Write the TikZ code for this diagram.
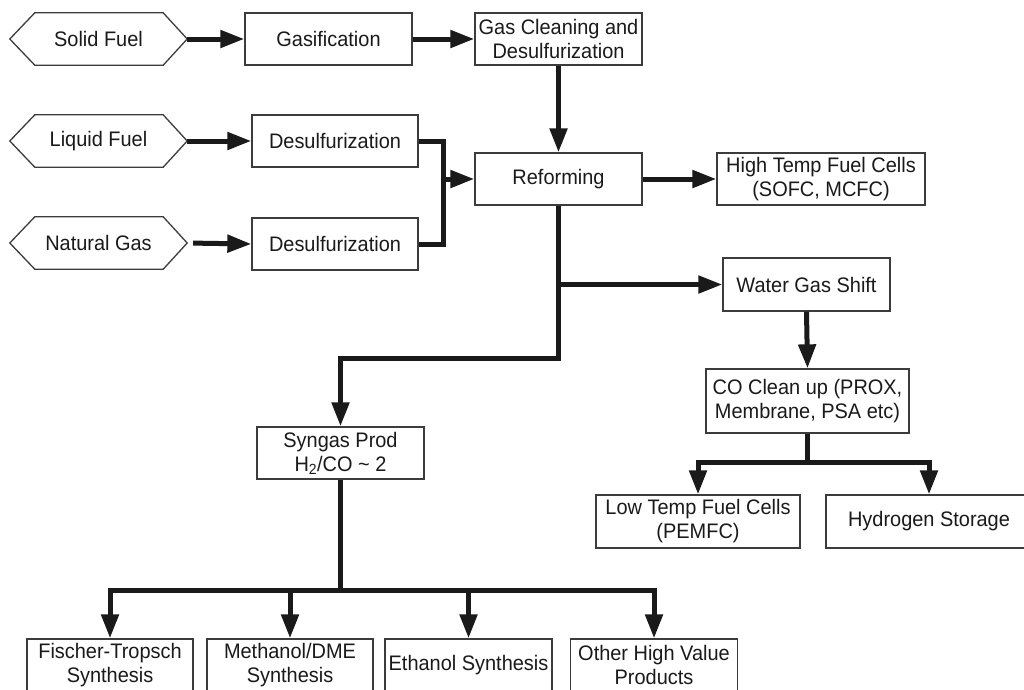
\documentclass[tikz,border=0pt]{standalone}
\usepackage{fontspec}
\setmainfont[FakeStretch=0.95]{Liberation Sans}
\usetikzlibrary{arrows.meta}
\definecolor{ink}{HTML}{1A1A1A}
\definecolor{edge}{HTML}{3C3C3C}
\tikzset{
  box/.style={draw=edge, line width=1.3pt, inner sep=0pt, align=center, text=ink,
    font=\fontsize{21}{24}\selectfont},
  hexbox/.style={inner sep=0pt, align=center, text=ink, minimum width=177pt, minimum height=52pt,
    font=\fontsize{21}{24}\selectfont},
  flow/.style={draw=ink, line width=5pt, line join=miter},
  arr/.style={flow, -{Triangle[length=24pt, width=17pt]}},
}
\begin{document}
\begin{tikzpicture}[x=1pt, y=-1pt]
\fill[white] (0,0) rectangle (1024,689);
\useasboundingbox (0,0) rectangle (1024,689);
\begin{scope}
\clip (0,0) rectangle (1024,689);
% inputs
\node[hexbox] (solid) at (98.5,39) {Solid Fuel};
\node[hexbox] (liquid) at (98.5,141) {Liquid Fuel};
\node[hexbox] (natural) at (98.5,243) {Natural Gas};
\foreach \n in {solid,liquid,natural}{
  \draw[edge, line width=1.3pt, line join=miter]
    (\n.west) -- ([xshift=25pt]\n.north west) -- ([xshift=-24pt]\n.north east) -- (\n.east)
    -- ([xshift=-24pt]\n.south east) -- ([xshift=25pt]\n.south west) -- cycle;
}
% boxes
\node[box, minimum width=167pt, minimum height=52pt] (gasif) at (328.5,39) {Gasification};
\node[box, minimum width=167pt, minimum height=52pt] (gasclean) at (558.5,39) {Gas Cleaning and\\Desulfurization};
\node[box, minimum width=166pt, minimum height=52pt] (desulf1) at (335,141) {Desulfurization};
\node[box, minimum width=166pt, minimum height=52pt] (desulf2) at (335,244) {Desulfurization};
\node[box, minimum width=167pt, minimum height=52pt] (reform) at (558.5,179) {Reforming};
\node[box, minimum width=208pt, minimum height=52pt] (hightemp) at (821,179) {High Temp Fuel Cells\\(SOFC, MCFC)};
\node[box, minimum width=167pt, minimum height=53pt] (wgs) at (806.5,284.5) {Water Gas Shift};
\node[box, minimum width=203pt, minimum height=64pt] (co) at (807.5,401) {CO Clean up (PROX,\\Membrane, PSA etc)};
\node[box, minimum width=204pt, minimum height=53pt] (lowtemp) at (698,521.5) {Low Temp Fuel Cells\\(PEMFC)};
\node[box, minimum width=206pt, minimum height=53pt] (h2) at (929,521.5) {Hydrogen Storage};
\node[box, minimum width=167pt, minimum height=52pt] (syngas) at (340.5,453) {Syngas Prod\\H\textsubscript{2}/CO \textasciitilde{} 2};
\node[box, minimum width=166pt, minimum height=52pt] (ft) at (110,665) {Fischer-Tropsch\\Synthesis};
\node[box, minimum width=166pt, minimum height=52pt] (meoh) at (290,665) {Methanol/DME\\Synthesis};
\node[box, minimum width=167pt, minimum height=52pt] (etoh) at (468.5,665) {Ethanol Synthesis};
\node[box, minimum width=167pt, minimum height=52pt] (other) at (654,665) {Other High Value\\Products};
% junction points
\coordinate (m1) at (443,141);
\coordinate (m2) at (443,244);
\coordinate (mj) at (443,179);
\coordinate (b0) at (558.5,284.5);
\coordinate (b1) at (558.5,358);
\coordinate (c1) at (807.5,462);
\coordinate (s1) at (340.5,590);
% connectors
\draw[arr] (solid.east) -- (gasif.west);
\draw[arr] (gasif.east) -- (gasclean.west);
\draw[arr] (gasclean.south) -- (reform.north);
\draw[arr] (liquid.east) -- (desulf1.west);
\draw[arr, shorten <=6pt] (natural.east) -- (desulf2.west);
\draw[flow] (desulf1.east) -- (m1) -- (m2) -- (desulf2.east);
\draw[arr] (mj) -- (reform.west);
\draw[arr] (reform.east) -- (hightemp.west);
\draw[arr] (reform.south) -- (b1) -| (syngas.north);
\draw[arr] (b0) -- (wgs.west);
\draw[arr] (wgs.south) -- (co.north);
\draw[flow] (co.south) -- (c1);
\draw[arr] (c1) -| (lowtemp.north);
\draw[arr] (c1) -| (h2.north);
\draw[flow] (syngas.south) -- (s1);
\draw[arr] (s1) -| (ft.north);
\draw[arr] (s1) -| (meoh.north);
\draw[arr] (s1) -| (etoh.north);
\draw[arr] (s1) -| (other.north);
\end{scope}
\end{tikzpicture}
\end{document}
